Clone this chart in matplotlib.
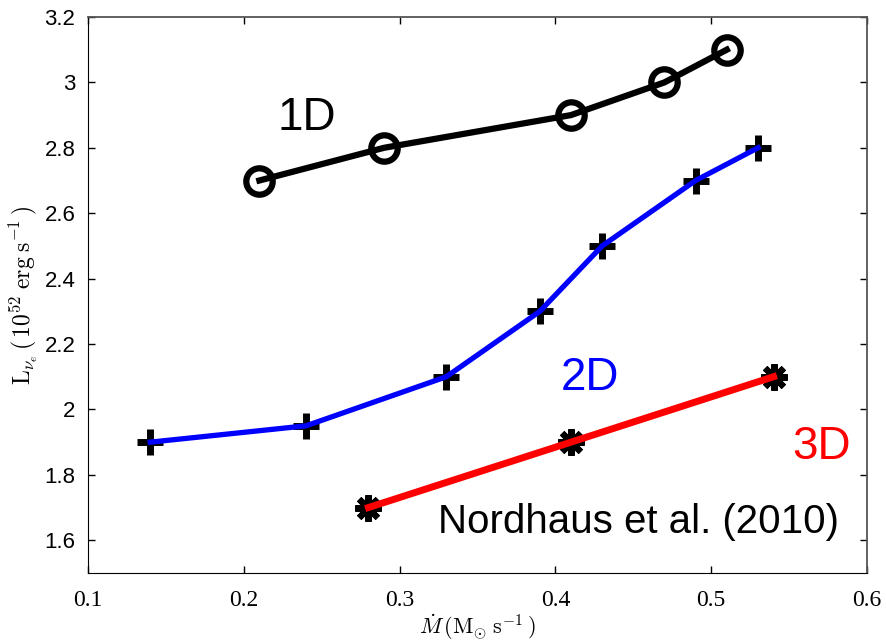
import numpy as np
import matplotlib
matplotlib.use('Agg')
import matplotlib.pyplot as plt

plt.rcParams['mathtext.fontset'] = 'cm'

# Luminosidade do neutrino eletronico versus taxa de acrecao
mdot_1d = [0.21, 0.29, 0.41, 0.47, 0.51]
lum_1d = [2.7, 2.8, 2.9, 3.0, 3.1]

mdot_2d = [0.14, 0.24, 0.33, 0.39, 0.43, 0.49, 0.53]
lum_2d = [1.9, 1.95, 2.1, 2.3, 2.5, 2.7, 2.8]

mdot_3d = [0.28, 0.41, 0.54]
lum_3d = [1.7, 1.9, 2.1]

xticks = [0.1, 0.2, 0.3, 0.4, 0.5, 0.6]
xticklabels = ['0.1', '0.2', '0.3', '0.4', '0.5', '0.6']
yticks = [1.6, 1.8, 2.0, 2.2, 2.4, 2.6, 2.8, 3.0, 3.2]
yticklabels = ['1.6', '1.8', '2', '2.2', '2.4', '2.6', '2.8', '3', '3.2']

fig = plt.figure(figsize=(8.86, 6.43), dpi=100)
ax = fig.add_axes([0.0993, 0.1089, 0.8793, 0.8647])

# marcadores por baixo, linhas por cima
ax.plot(mdot_1d, lum_1d, linestyle='none', marker='o', markersize=19,
        markerfacecolor='none', markeredgecolor='black', markeredgewidth=4.5,
        zorder=2, clip_on=False)
ax.plot(mdot_1d, lum_1d, color='black', linewidth=4.5, zorder=3)

ax.plot(mdot_2d, lum_2d, linestyle='none', marker='+', markersize=19,
        markeredgecolor='black', markeredgewidth=5, zorder=2, clip_on=False)
ax.plot(mdot_2d, lum_2d, color='#0000ff', linewidth=3.8, zorder=3)

ax.plot(mdot_3d, lum_3d, linestyle='none', marker='o', markersize=12,
        markerfacecolor='black', markeredgecolor='black', zorder=2, clip_on=False)
ax.plot(mdot_3d, lum_3d, linestyle='none', marker=(8, 2, 0), markersize=19,
        markeredgecolor='black', markeredgewidth=4.5, zorder=2, clip_on=False)
ax.plot(mdot_3d, lum_3d, color='#ff0000', linewidth=5, zorder=3)

ax.text(0.2405, 2.89, '1D', fontsize=33, color='black', ha='center', va='center',
        family='Liberation Sans')
ax.text(0.422, 2.096, '2D', fontsize=33, color='#0000ff', ha='center', va='center',
        family='Liberation Sans')
ax.text(0.5705, 1.885, '3D', fontsize=33, color='#ff0000', ha='center', va='center',
        family='Liberation Sans')
ax.text(0.4535, 1.655, 'Nordhaus et al. (2010)', fontsize=29, color='black',
        ha='center', va='center', family='Liberation Sans')

ax.set_xlim(0.1, 0.6)
ax.set_ylim(1.5, 3.2)
ax.set_xticks(xticks)
ax.set_xticklabels(xticklabels, family='Liberation Serif', fontsize=17)
ax.set_yticks(yticks)
ax.set_yticklabels(yticklabels, family='Liberation Sans', fontsize=16)
ax.tick_params(direction='in', length=5, width=1, top=True, right=True, pad=9)
ax.tick_params(axis='x', pad=12)

for s in ['left', 'bottom']:
    ax.spines[s].set_color('black')
for s in ['top', 'right']:
    ax.spines[s].set_color('#555555')
    ax.spines[s].set_linewidth(1.3)

ax.set_xlabel(r'$\dot{M}\,(\mathrm{M_{\odot}\;s^{-1}}\,)$', fontsize=16, labelpad=1)
ax.set_ylabel(r'$\mathrm{L}_{\nu_e}\,(\,10^{52}\;\mathrm{erg\;s^{-1}}\,)$', fontsize=17, labelpad=4)

fig.savefig('out.png', dpi=100)
